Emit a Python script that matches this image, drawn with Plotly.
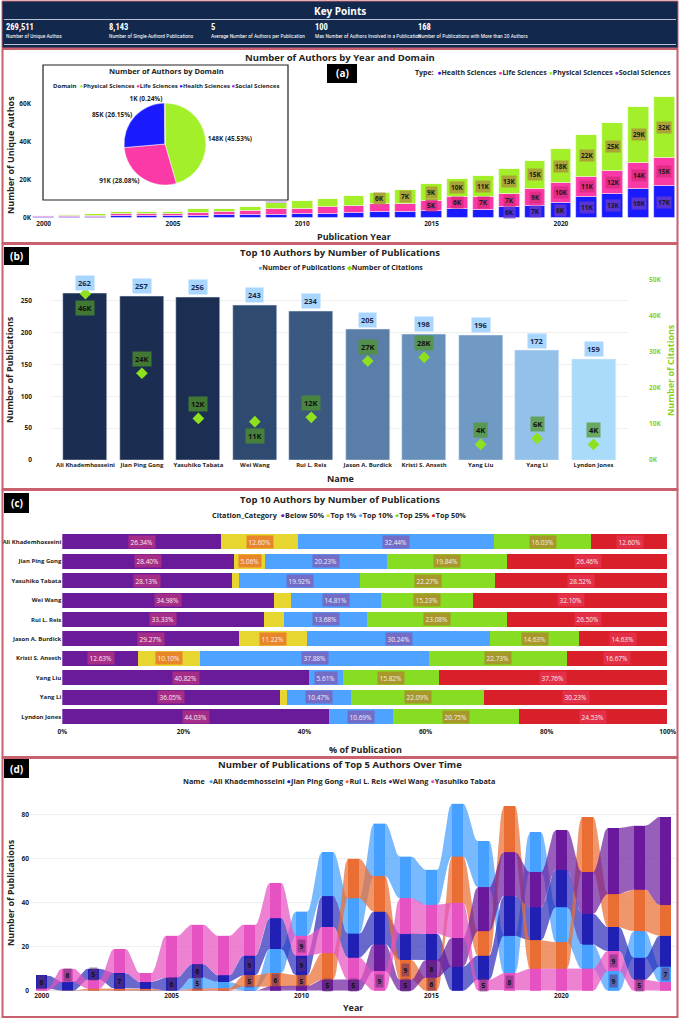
import math
import plotly.graph_objects as go

W, H = 680, 1020
def fx(p): return p / W
def fy(p): return 1 - p / H

FONT = "Open Sans"
NARROW = "Liberation Sans Narrow, Arial Narrow, Roboto Condensed, Liberation Sans, Arial"
DARK = "#252423"
BORDER = "#c8606e"

# ---------------- Header KPIs ----------------
kpi_values = ["269,511", "8,143", "5", "100", "168"]
kpi_labels = ["Number of Unique Authos", "Number of Single-Authord Publications",
              "Average Number of Authors per Publication",
              "Max Number of Authors Involved in a Publication",
              "Number of Publications with More than 20 Authors"]

# ---------------- (a) Authors by year and domain (thousands) ----------------
years_a = list(range(2000, 2025))
health_k = [0.5, 0.6, 0.7, 1.0, 1.0, 1.1, 1.4, 1.5, 1.7, 1.9, 2.0, 2.3, 2.6, 3.0, 3.0, 3.8, 4.9, 4.5, 5.6, 6.6, 8.2, 11.0, 12.7, 15.5, 16.7]
life_k = [0.45, 0.55, 0.7, 1.0, 1.0, 1.1, 1.5, 1.6, 1.9, 2.7, 3.0, 3.3, 4.0, 4.3, 4.6, 5.2, 6.1, 6.8, 7.1, 8.7, 10.1, 10.6, 12.2, 13.6, 14.8]
physical_k = [0.45, 0.55, 0.7, 1.0, 1.0, 1.2, 1.7, 1.8, 2.4, 3.6, 3.8, 4.3, 4.8, 6.0, 7.0, 8.7, 9.7, 10.6, 12.9, 14.6, 17.7, 21.7, 25.0, 29.0, 32.0]
social_k = [0.01, 0.01, 0.01, 0.01, 0.01, 0.02, 0.02, 0.02, 0.02, 0.03, 0.03, 0.03, 0.04, 0.04, 0.04, 0.05, 0.05, 0.06, 0.06, 0.07, 0.08, 0.09, 0.1, 0.1, 0.1]
domain_names = ["Physical Sciences", "Life Sciences", "Health Sciences", "Social Sciences"]
domain_authors_k = [148.1, 91.35, 85.07, 0.78]

# ---------------- (b) Top 10 authors ----------------
authors = ["Ali Khademhosseini", "Jian Ping Gong", "Yasuhiko Tabata", "Wei Wang", "Rui L. Reis",
           "Jason A. Burdick", "Kristi S. Anseth", "Yang Liu", "Yang Li", "Lyndon Jones"]
publications = [262, 257, 256, 243, 234, 205, 198, 196, 172, 159]
citations_k = [46.0, 24.0, 11.5, 10.6, 11.8, 27.4, 28.4, 4.3, 6.0, 4.3]

# ---------------- (c) Citation category shares (%) ----------------
cit_categories = ["Below 50%", "Top 1%", "Top 10%", "Top 25%", "Top 50%"]
below50 = [26.34, 28.40, 28.13, 34.98, 33.33, 29.27, 12.63, 40.82, 36.05, 44.03]
top1 = [12.60, 5.06, 1.17, 2.88, 3.42, 11.22, 10.10, 0.0, 1.16, 0.0]
top10 = [32.44, 20.23, 19.92, 14.81, 13.68, 30.24, 37.88, 5.61, 10.47, 10.69]
top25 = [16.03, 19.84, 22.27, 15.23, 23.08, 14.63, 22.73, 15.82, 22.09, 20.75]
top50 = [12.60, 26.46, 28.52, 32.10, 26.50, 14.63, 16.67, 37.76, 30.23, 24.53]

# ---------------- (d) Publications of top 5 authors over time ----------------
years_d = list(range(2000, 2025))
top5_names = ["Ali Khademhosseini", "Jian Ping Gong", "Rui L. Reis", "Wei Wang", "Yasuhiko Tabata"]
ali_pubs = [0, 0, 0, 0, 0, 0, 5, 3, 2, 11, 11, 20, 16, 24, 19, 16, 24, 21, 17, 18, 16, 11, 9, 12, 7]
gong_pubs = [6, 4, 5, 7, 3, 6, 6, 3, 9, 14, 9, 14, 11, 15, 12, 12, 11, 11, 18, 15, 17, 14, 11, 10, 14]
reis_pubs = [0, 0, 1, 1, 1, 0, 1, 1, 5, 6, 5, 12, 18, 16, 9, 6, 21, 11, 21, 13, 12, 25, 15, 19, 14]
wang_pubs = [0, 0, 0, 0, 0, 0, 0, 0, 0, 2, 2, 5, 5, 12, 5, 8, 13, 20, 20, 16, 18, 19, 30, 29, 40]
tabata_pubs = [1, 6, 4, 11, 4, 19, 18, 18, 14, 16, 9, 12, 10, 9, 16, 13, 16, 5, 8, 10, 10, 10, 9, 5, 4]

# ---------------- styles ----------------
C_HEALTH, C_LIFE, C_PHYS, C_SOC = "#1a1aff", "#fb3aa8", "#a3f02a", "#8a2be2"
bar_b_colors = ["#1b2d50", "#1b2d50", "#1c2f52", "#2f4a70", "#3a5880", "#5b7ea8", "#6690ba", "#7099c4", "#93c1ea", "#a9dcfb"]
C_CIT = "#8ee21d"
cat_colors = ["#6a1b9a", "#e8d630", "#4da3ff", "#86dd21", "#d81f2a"]
cat_label_bg = ["rgba(215,60,120,0.55)", "rgba(232,120,40,0.85)", "rgba(125,95,185,0.8)", "rgba(175,135,45,0.8)", "rgba(235,60,90,0.6)"]
d_colors = ["#45a0ff", "#2121b5", "#ea6d35", "#6b1a9c", "#e652c2"]
d_fill = ["rgba(69,160,255,0.72)", "rgba(33,33,181,0.68)", "rgba(234,109,53,0.72)", "rgba(107,26,156,0.7)", "rgba(230,82,194,0.72)"]

fig = go.Figure()
ann = []
shapes = []

# ================= (a) =================
stack_a = [("Health Sciences", health_k, C_HEALTH, "rgba(110,60,200,0.75)"),
           ("Life Sciences", life_k, C_LIFE, "rgba(215,40,120,0.75)"),
           ("Physical Sciences", physical_k, C_PHYS, "rgba(170,150,55,0.85)"),
           ("Social Sciences", social_k, C_SOC, None)]
base = [0.0] * len(years_a)
for name, vals, col, lbg in stack_a:
    fig.add_trace(go.Bar(x=years_a, y=vals, base=list(base), name=name, width=0.8,
                         marker=dict(color=col, line=dict(color="rgba(255,255,255,0.7)", width=0.6)),
                         xaxis="x", yaxis="y", showlegend=False))
    if lbg:
        for yr, b, v in zip(years_a, base, vals):
            if v >= 5:
                ann.append(dict(x=yr, y=b + v / 2, xref="x", yref="y", text=f"<b>{v:.0f}K</b>",
                                showarrow=False, bgcolor=lbg, borderpad=1,
                                font=dict(size=6.5, color="#1a1a1a", family=FONT)))
    base = [b + v for b, v in zip(base, vals)]

# pie inset
fig.add_trace(go.Pie(labels=domain_names, values=domain_authors_k, sort=False, direction="clockwise",
                     rotation=0, marker=dict(colors=[C_PHYS, C_LIFE, C_HEALTH, C_SOC],
                                            line=dict(color="white", width=0.5)),
                     texttemplate="%{value:.0f}K (%{percent:.2%})", textposition="outside",
                     textfont=dict(size=6.5, color=DARK, family=FONT, weight="bold"),
                     domain=dict(x=[fx(124), fx(206)], y=[fy(185), fy(103)]),
                     showlegend=False, automargin=False))

# ================= (b) =================
fig.add_trace(go.Bar(x=authors, y=publications, width=0.78, marker=dict(color=bar_b_colors),
                     name="Number of Publications", xaxis="x3", yaxis="y3", showlegend=False))
fig.add_trace(go.Scatter(x=authors, y=citations_k, mode="markers", name="Number of Citations",
                         marker=dict(symbol="diamond", size=9, color=C_CIT),
                         xaxis="x3", yaxis="y4", showlegend=False))
cit_label_side = [-1, 1, 1, -1, 1, 1, 1, 1, 1, 1]
for a, p, c, s in zip(authors, publications, citations_k, cit_label_side):
    ann.append(dict(x=a, y=p, xref="x3", yref="y3", text=f"<b>{p}</b>", showarrow=False,
                    yanchor="bottom", yshift=2, bgcolor="#a8d6ff", borderpad=2,
                    font=dict(size=7.5, color="#1b2a4a", family=FONT)))
    ann.append(dict(x=a, y=c, xref="x3", yref="y4", text=f"<b>{c:.0f}K</b>", showarrow=False,
                    yshift=14 * s, bgcolor="rgba(80,150,40,0.72)", borderpad=2,
                    font=dict(size=7.5, color="#111", family=FONT)))

# ================= (c) =================
cat_values = [below50, top1, top10, top25, top50]
base_c = [0.0] * len(authors)
for cname, vals, col, lbg in zip(cit_categories, cat_values, cat_colors, cat_label_bg):
    fig.add_trace(go.Bar(y=authors, x=vals, base=list(base_c), orientation="h", width=0.77,
                         name=cname, marker=dict(color=col, line=dict(width=0)),
                         xaxis="x5", yaxis="y5", showlegend=False))
    for a, b, v in zip(authors, base_c, vals):
        if v >= 5:
            ann.append(dict(x=b + v / 2, y=a, xref="x5", yref="y5", text=f"{v:.2f}%",
                            showarrow=False, bgcolor=lbg, borderpad=1.5,
                            font=dict(size=6.5, color="#f4eef4", family=FONT)))
    base_c = [b + v for b, v in zip(base_c, vals)]

# ================= (d) ribbon chart =================
series_d = [ali_pubs, gong_pubs, reis_pubs, wang_pubs, tabata_pubs]
nY = len(years_d)
bottoms = [[0] * nY for _ in series_d]
for i in range(nY):
    order = sorted(range(len(series_d)), key=lambda k: series_d[k][i])
    acc = 0
    for k in order:
        bottoms[k][i] = acc
        acc += series_d[k][i]

hw = 0.22
NI = 14
def ease(t):
    return (1 - math.cos(math.pi * t)) / 2

for k, (name, vals) in enumerate(zip(top5_names, series_d)):
    bt = bottoms[k]
    tp = [b + v for b, v in zip(bt, vals)]
    xt, yt, xb, yb = [], [], [], []
    for i, yr in enumerate(years_d):
        xt += [yr - hw, yr + hw]; yt += [tp[i], tp[i]]
        xb += [yr - hw, yr + hw]; yb += [bt[i], bt[i]]
        if i < nY - 1:
            for j in range(1, NI):
                f = j / NI
                e = ease(f)
                xx = yr + hw + f * (1 - 2 * hw)
                xt.append(xx); yt.append(tp[i] + (tp[i + 1] - tp[i]) * e)
                xb.append(xx); yb.append(bt[i] + (bt[i + 1] - bt[i]) * e)
    fig.add_trace(go.Scatter(x=xt + xb[::-1], y=yt + yb[::-1], fill="toself", mode="lines",
                             line=dict(width=0), fillcolor=d_fill[k], name=name,
                             hoverinfo="skip", xaxis="x6", yaxis="y6", showlegend=False))
for k, (name, vals) in enumerate(zip(top5_names, series_d)):
    fig.add_trace(go.Bar(x=years_d, y=vals, base=bottoms[k], width=2 * hw, name=name,
                         marker=dict(color=d_colors[k], line=dict(width=0)),
                         xaxis="x6", yaxis="y6", showlegend=False))
    for yr, b, v in zip(years_d, bottoms[k], vals):
        if 5 <= v <= 9:
            ann.append(dict(x=yr, y=b + v / 2, xref="x6", yref="y6", text=f"<b>{v}</b>",
                            showarrow=False, bgcolor="rgba(95,45,110,0.55)", borderpad=1.5,
                            font=dict(size=6.5, color="#111", family=FONT)))

# ================= decorations =================
shapes.append(dict(type="rect", xref="paper", yref="paper", x0=fx(2), x1=fx(678), y0=fy(1), y1=fy(48),
                   fillcolor="#12284c", line=dict(color=BORDER, width=1), layer="above"))
for yy in (19.5, 44.5):
    shapes.append(dict(type="line", xref="paper", yref="paper", x0=fx(4), x1=fx(676), y0=fy(yy), y1=fy(yy),
                       line=dict(color="#b8c2d4", width=1.2), layer="above"))
ann.append(dict(x=0.5, y=fy(11), xref="paper", yref="paper", text="<b>Key Points</b>", showarrow=False,
                font=dict(size=10, color="white", family=FONT)))
kpi_x = [4, 107, 209, 313, 416]
for xv, v, l in zip(kpi_x, kpi_values, kpi_labels):
    ann.append(dict(x=fx(xv), y=fy(27), xref="paper", yref="paper", text=f"<b>{v}</b>", showarrow=False,
                    xanchor="left", font=dict(size=8.5, color="white", family=NARROW)))
    ann.append(dict(x=fx(xv), y=fy(36.5), xref="paper", yref="paper", text=l, showarrow=False,
                    xanchor="left", font=dict(size=5.5, color="white", family=NARROW)))

for y0, y1 in [(49, 243), (244, 489), (490, 757), (758, 1017)]:
    shapes.append(dict(type="rect", xref="paper", yref="paper", x0=fx(2.5), x1=fx(677.5), y0=fy(y0), y1=fy(y1),
                       line=dict(color=BORDER, width=2), layer="above"))
for tag, (x0, x1, y0, y1) in [("(a)", (327, 357, 64, 83)), ("(b)", (4, 29, 247, 265)),
                              ("(c)", (4, 29, 493, 513)), ("(d)", (4, 29, 759, 778))]:
    shapes.append(dict(type="rect", xref="paper", yref="paper", x0=fx(x0), x1=fx(x1), y0=fy(y0), y1=fy(y1),
                       fillcolor="black", line=dict(width=0), layer="above"))
    ann.append(dict(x=fx((x0 + x1) / 2), y=fy((y0 + y1) / 2), xref="paper", yref="paper",
                    text=f"<b>{tag}</b>", showarrow=False, font=dict(size=10, color="white", family=FONT)))
shapes.append(dict(type="rect", xref="paper", yref="paper", x0=fx(43), x1=fx(288), y0=fy(65), y1=fy(200),
                   fillcolor="white", line=dict(color="#222", width=1.2), layer="below"))

def legend_text(title, names, colors, symbols=None):
    parts = [f"<b>{title}</b>"] if title else []
    for i, (n, c) in enumerate(zip(names, colors)):
        sym = symbols[i] if symbols else "●"
        parts.append(f'<span style="color:{c}">{sym}</span><b>{n}</b>')
    return " ".join(parts)

def title_ann(text, y, size=9.5, x=340):
    ann.append(dict(x=fx(x), y=fy(y), xref="paper", yref="paper", text=f"<b>{text}</b>", showarrow=False,
                    font=dict(size=size, color=DARK, family=FONT)))

def legend_ann(text, x, y, anchor="center", size=7):
    ann.append(dict(x=fx(x), y=fy(y), xref="paper", yref="paper", text=text, showarrow=False, xanchor=anchor,
                    font=dict(size=size, color=DARK, family=FONT)))

def axis_title(text, x, y, angle=0, color=DARK, size=9):
    ann.append(dict(x=fx(x), y=fy(y), xref="paper", yref="paper", text=f"<b>{text}</b>", showarrow=False,
                    textangle=angle, font=dict(size=size, color=color, family=FONT)))

title_ann("Number of Authors by Year and Domain", 57)
legend_ann(legend_text("Type: ", ["Health Sciences", "Life Sciences", "Physical Sciences", "Social Sciences"],
                       [C_HEALTH, C_LIFE, C_PHYS, C_SOC]), 673, 73, "right")
axis_title("Number of Unique Authos", 10, 155, -90)
axis_title("Publication Year", 354, 236)
ann.append(dict(x=fx(166), y=fy(71), xref="paper", yref="paper", text="<b>Number of Authors by Domain</b>",
                showarrow=False, font=dict(size=7.5, color=DARK, family=FONT)))
legend_ann(legend_text("Domain ", domain_names, [C_PHYS, C_LIFE, C_HEALTH, C_SOC]), 166, 86, size=6)
title_ann("Top 10 Authors by Number of Publications", 252)
legend_ann(legend_text("", ["Number of Publications", "Number of Citations"], ["#4da3ff", C_CIT], ["●", "◆"]), 340, 268)
axis_title("Number of Publications", 9, 370, -90)
axis_title("Number of Citations", 670, 370, -90, color="#8ad11c")
axis_title("Name", 340, 478)
title_ann("Top 10 Authors by Number of Publications", 499)
legend_ann(legend_text("Citation_Category ", cit_categories, cat_colors), 339, 515, size=7.3)
axis_title("% of Publication", 365, 749)
title_ann("Number of Publications of Top 5 Authors Over Time", 764)
legend_ann(legend_text("Name ", top5_names, d_colors), 339, 781, size=7.3)
axis_title("Number of Publications", 10, 893, -90)
axis_title("Year", 353, 1007)

for a in ann:
    a.setdefault("xanchor", "center")
    a.setdefault("yanchor", "middle")

tickf = dict(size=6.5, color=DARK, family=FONT, weight="bold")
tickn = dict(size=6, color=DARK, family=FONT, weight="bold")
GRID = "#efefef"
AX = dict(automargin=False, zeroline=False, ticks="", showline=False)

fig.update_layout(
    width=W, height=H, autosize=False, margin=dict(l=0, r=0, t=0, b=0, autoexpand=False),
    paper_bgcolor="white", plot_bgcolor="rgba(0,0,0,0)", barmode="overlay", bargap=0,
    font=dict(family=FONT, color=DARK), showlegend=False,
    shapes=shapes, annotations=ann,
    xaxis=dict(domain=[fx(32), fx(676)], range=[1999.55, 2024.45], anchor="y", tickvals=[2000, 2005, 2010, 2015, 2020],
               tickfont=tickf, showgrid=False, **AX),
    yaxis=dict(domain=[fy(218), fy(91.8)], range=[0, 66], anchor="x", tickvals=[0, 20, 40, 60],
               ticktext=["0K", "20K", "40K", "60K"], tickfont=tickf, showgrid=False, **AX),
    xaxis3=dict(domain=[fx(51), fx(628)], anchor="y3", tickfont=tickn, showgrid=False, tickangle=0, **AX),
    yaxis3=dict(domain=[fy(460), fy(279.3)], range=[0, 284], anchor="free", position=fx(32),
                tickvals=[0, 50, 100, 150, 200, 250], tickfont=tickf, showgrid=True, gridcolor=GRID, **AX),
    yaxis4=dict(domain=[fy(460), fy(279.3)], range=[0, 50], overlaying="y3", side="right", anchor="free",
                position=fx(648), tickvals=[0, 10, 20, 30, 40, 50], ticktext=["0K", "10K", "20K", "30K", "40K", "50K"],
                tickfont=dict(size=6.5, color="#8ad11c", family=FONT, weight="bold"), showgrid=False, **AX),
    xaxis5=dict(domain=[fx(62.3), fx(667.7)], range=[0, 100], anchor="y5", tickvals=[0, 20, 40, 60, 80, 100],
                ticktext=["0%", "20%", "40%", "60%", "80%", "100%"], tickfont=tickf, showgrid=False, **AX),
    yaxis5=dict(domain=[fy(726.4), fy(532)], anchor="x5", autorange="reversed", tickfont=tickn, showgrid=False, **AX),
    xaxis6=dict(domain=[fx(30), fx(677)], range=[1999.55, 2024.45], anchor="y6", tickvals=[2000, 2005, 2010, 2015, 2020],
                tickfont=tickf, showgrid=False, **AX),
    yaxis6=dict(domain=[fy(990.7), fy(795)], range=[0, 89], anchor="x6", tickvals=[0, 20, 40, 60, 80],
                tickfont=tickf, showgrid=True, gridcolor=GRID, **AX),
)

fig.write_html("out.html", config={"displayModeBar": False},
               post_script="document.body.style.margin='0px';document.body.style.overflow='hidden';")
